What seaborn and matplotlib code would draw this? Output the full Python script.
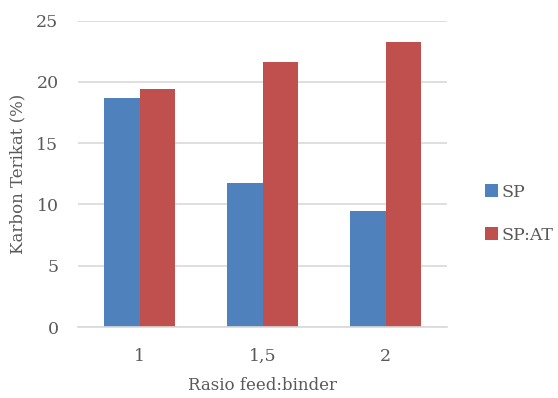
import matplotlib
matplotlib.use("Agg")
import matplotlib.pyplot as plt
import seaborn as sns
import pandas as pd

categories = ["1", "1,5", "2"]
sp_values = [18.66, 11.74, 9.43]
spat_values = [19.43, 21.65, 23.28]
series_names = ["SP", "SP:AT"]
yticks = [0, 5, 10, 15, 20, 25]

df = pd.DataFrame({
    "Rasio": categories * 2,
    "Seri": [series_names[0]] * 3 + [series_names[1]] * 3,
    "Nilai": sp_values + spat_values,
})

sns.set_theme(style="white")
plt.rcParams["font.family"] = ["DejaVu Serif"]
text_color = "#595959"

fig = plt.figure(figsize=(5.58, 3.98), dpi=100)
ax = fig.add_axes([78 / 558, 1 - 327 / 398, (447 - 78) / 558, (327 - 20.7) / 398])

sns.barplot(data=df, x="Rasio", y="Nilai", hue="Seri", order=categories,
            hue_order=series_names, palette=["#4F81BD", "#C0504D"],
            width=0.57, gap=0, ax=ax, errorbar=None, saturation=1,
            linewidth=0)

ax.set_ylim(0, 25)
ax.set_yticks(yticks)
ax.set_xlim(-0.5, 2.5)
ax.yaxis.grid(True, color="#D9D9D9", linewidth=1.2)
ax.set_axisbelow(True)
for s in ["top", "right", "left"]:
    ax.spines[s].set_visible(False)
ax.spines["bottom"].set_color("#D9D9D9")
ax.spines["bottom"].set_linewidth(1.2)
ax.tick_params(axis="both", length=0, colors=text_color, labelsize=12.5)
ax.tick_params(axis="y", pad=14)
ax.tick_params(axis="x", pad=15)

ax.set_ylabel("Karbon Terikat (%)", color=text_color, fontsize=12, labelpad=7)
ax.set_xlabel("Rasio feed:binder", color=text_color, fontsize=12, labelpad=9)

handles, labels = ax.get_legend_handles_labels()
leg = ax.legend(handles, labels, loc="center left", bbox_to_anchor=(1.06, 0.37),
                frameon=False, fontsize=12.5, handlelength=0.75, handleheight=0.75,
                handletextpad=0.2, labelspacing=1.5, labelcolor=text_color)

fig.savefig("out.png", dpi=100)
